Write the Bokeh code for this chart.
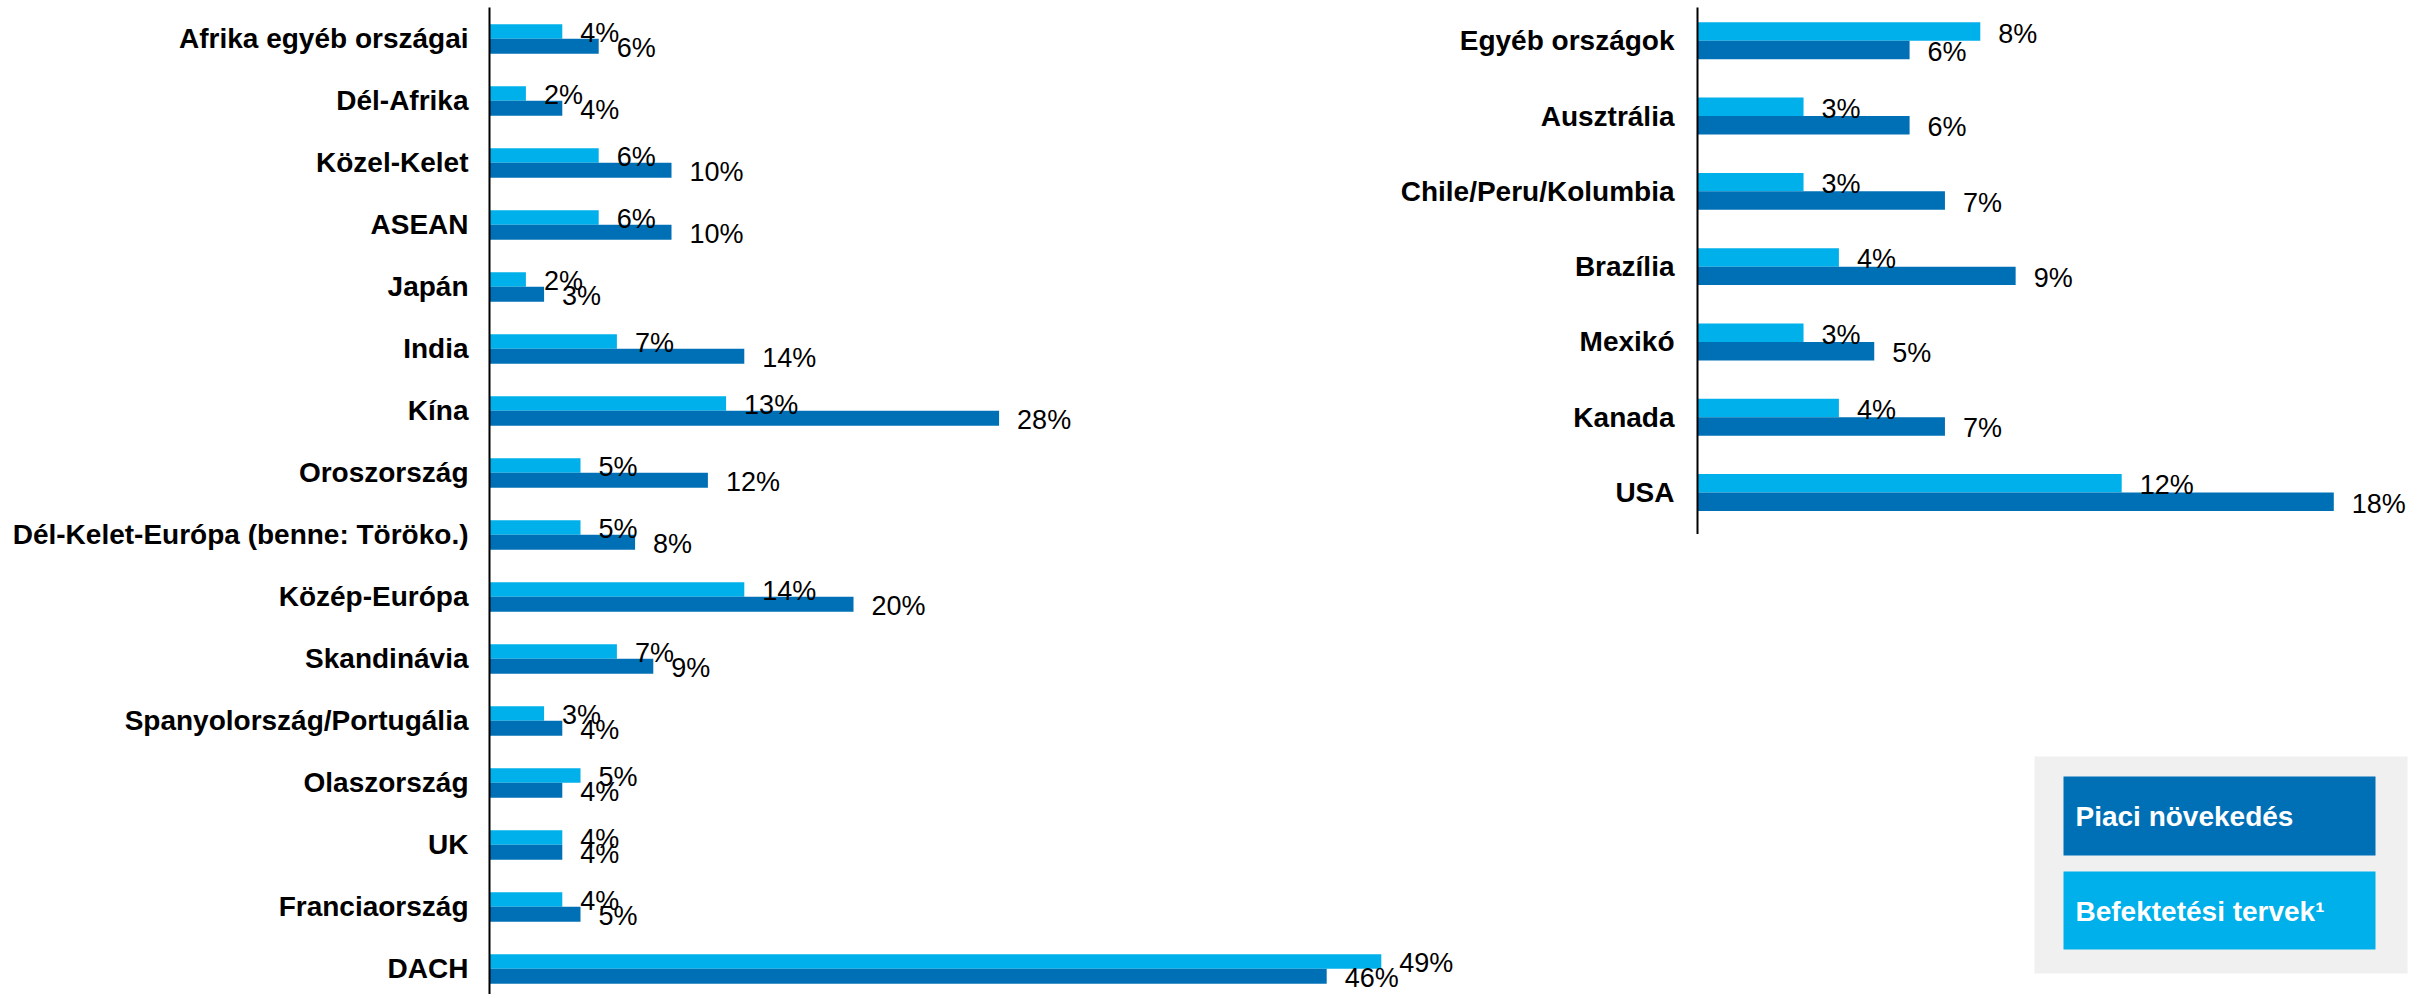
from bokeh.plotting import figure
from bokeh.models import Range1d, FixedTicker, ColumnDataSource
from bokeh.core.properties import value
from bokeh.embed import file_html
from bokeh.resources import INLINE

# ---------------- data ----------------
cats_left = ["Afrika egyéb országai", "Dél-Afrika", "Közel-Kelet", "ASEAN", "Japán",
             "India", "Kína", "Oroszország", "Dél-Kelet-Európa (benne: Töröko.)",
             "Közép-Európa", "Skandinávia", "Spanyolország/Portugália", "Olaszország",
             "UK", "Franciaország", "DACH"]
invest_left = [4, 2, 6, 6, 2, 7, 13, 5, 5, 14, 7, 3, 5, 4, 4, 49]
market_left = [6, 4, 10, 10, 3, 14, 28, 12, 8, 20, 9, 4, 4, 4, 5, 46]

cats_right = ["Egyéb országok", "Ausztrália", "Chile/Peru/Kolumbia", "Brazília",
              "Mexikó", "Kanada", "USA"]
invest_right = [8, 3, 3, 4, 3, 4, 12]
market_right = [6, 6, 7, 9, 5, 7, 18]

legend_labels = ["Piaci növekedés", "Befektetési tervek¹"]

# ---------------- styling ----------------
DARK = "#0070B6"
LIGHT = "#00B0EA"
GREY = "#F0F0F0"
FONT = "Liberation Sans"

OX, OY = 1, 0                 # where the figure lands in the picture
MT = 7                        # top border
W, H = 2412, 994
AXIS_L = 490
AXIS_R = 1698
BL = AXIS_L - OX
FW = W - BL
FTOP = OY + MT
FBOT = OY + H

PX_L, ROW_L, C0_L = 18.2, 62.0, 38.3     # px per %, px per row, first centre (picture y)
PX_R, ROW_R, C0_R = 35.35, 75.3, 40.2

p = figure(width=W, height=H, output_backend="svg", toolbar_location=None,
           x_axis_location=None, y_axis_location="left",
           min_border_left=BL, min_border_right=0, min_border_top=MT, min_border_bottom=0,
           x_range=Range1d(0, FW / PX_L),
           y_range=Range1d((FBOT - C0_L) / ROW_L, (FTOP - C0_L) / ROW_L))
p.outline_line_color = None
p.grid.visible = False
p.background_fill_color = "white"
p.border_fill_color = "white"

p.extra_x_ranges = {
    "r": Range1d(-(AXIS_R - AXIS_L) / PX_R, (AXIS_L + FW - AXIS_R) / PX_R),
    "px": Range1d(0, FW),
}
p.extra_y_ranges = {
    "r": Range1d((FBOT - C0_R) / ROW_R, (FTOP - C0_R) / ROW_R),
    "px": Range1d(H - MT, 0),
}

# ---------------- left panel ----------------
yl = list(range(len(cats_left)))
src_l = ColumnDataSource(dict(
    y_inv=[i - 0.118 for i in yl], y_mkt=[i + 0.121 for i in yl],
    inv=invest_left, mkt=market_left,
    inv_t=[f"{v}%" for v in invest_left], mkt_t=[f"{v}%" for v in market_left]))

p.hbar(y="y_inv", right="inv", left=0, height=0.235, source=src_l,
       fill_color=LIGHT, line_color=None)
p.hbar(y="y_mkt", right="mkt", left=0, height=0.24, source=src_l,
       fill_color=DARK, line_color=None)
p.text(x="inv", y="y_inv", text="inv_t", source=src_l, x_offset=18, y_offset=2,
       text_font=value(FONT), text_font_size="27px", text_baseline="middle",
       text_align="left", text_color="black")
p.text(x="mkt", y="y_mkt", text="mkt_t", source=src_l, x_offset=18, y_offset=2,
       text_font=value(FONT), text_font_size="27px", text_baseline="middle",
       text_align="left", text_color="black")

ax = p.yaxis[0]
ax.ticker = FixedTicker(ticks=yl)
ax.major_label_overrides = {i: c for i, c in enumerate(cats_left)}
ax.major_label_text_font = FONT
ax.major_label_text_font_style = "bold"
ax.major_label_text_font_size = "28px"
ax.major_label_text_color = "black"
ax.major_label_standoff = 21
ax.major_tick_out = 0
ax.major_tick_in = 0
ax.major_tick_line_color = None
ax.minor_tick_line_color = None
ax.axis_line_color = "black"
ax.axis_line_width = 2

# ---------------- right panel ----------------
yr = list(range(len(cats_right)))
src_r = ColumnDataSource(dict(
    y=yr, y_inv=[i - 0.122 for i in yr], y_mkt=[i + 0.123 for i in yr],
    inv=invest_right, mkt=market_right, cat=cats_right,
    zero=[0] * len(yr),
    inv_t=[f"{v}%" for v in invest_right], mkt_t=[f"{v}%" for v in market_right]))

p.hbar(y="y_inv", right="inv", left=0, height=0.245, source=src_r,
       fill_color=LIGHT, line_color=None, x_range_name="r", y_range_name="r")
p.hbar(y="y_mkt", right="mkt", left=0, height=0.245, source=src_r,
       fill_color=DARK, line_color=None, x_range_name="r", y_range_name="r")
p.text(x="inv", y="y_inv", text="inv_t", source=src_r, x_offset=18, y_offset=2,
       text_font=value(FONT), text_font_size="27px", text_baseline="middle",
       text_align="left", text_color="black", x_range_name="r", y_range_name="r")
p.text(x="mkt", y="y_mkt", text="mkt_t", source=src_r, x_offset=18, y_offset=2,
       text_font=value(FONT), text_font_size="27px", text_baseline="middle",
       text_align="left", text_color="black", x_range_name="r", y_range_name="r")
p.text(x="zero", y="y", text="cat", source=src_r, x_offset=-23,
       text_font=value(FONT), text_font_size="28px", text_font_style="bold",
       text_baseline="middle", text_align="right", text_color="black",
       x_range_name="r", y_range_name="r")
p.segment(x0=[0], x1=[0], y0=[-0.473], y1=[len(cats_right) - 0.45], line_color="black",
          line_width=2, x_range_name="r", y_range_name="r")

# ---------------- legend (pixel space of the frame) ----------------
p.quad(left=[1545], right=[1918], top=[749], bottom=[966], fill_color=GREY,
       line_color=None, x_range_name="px", y_range_name="px")
p.quad(left=[1574, 1574], right=[1886, 1886], top=[769, 864], bottom=[848, 942],
       fill_color=[DARK, LIGHT], line_color=None, x_range_name="px", y_range_name="px")
p.text(x=[1586, 1586], y=[809, 904], text=legend_labels, text_color="white",
       text_font=value(FONT), text_font_size="28px", text_font_style="bold",
       text_baseline="middle", text_align="left", x_range_name="px", y_range_name="px")

open("out.html", "w").write(file_html(p, INLINE))
